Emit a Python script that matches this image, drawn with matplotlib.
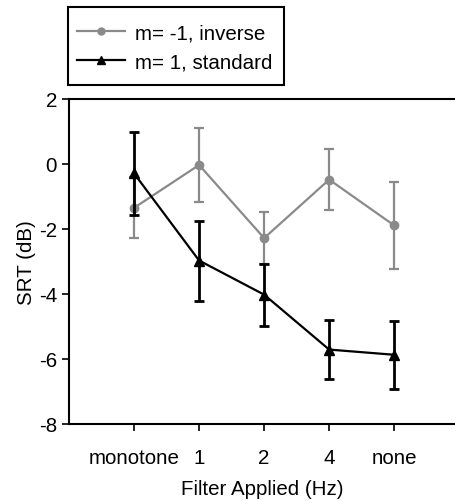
import matplotlib
matplotlib.use("Agg")
import matplotlib.pyplot as plt
from matplotlib.lines import Line2D
from matplotlib.patches import Rectangle

# ============= data
categories = ["monotone", "1", "2", "4", "none"]

inverse_srt = [-1.35, -0.03, -2.28, -0.48, -1.89]
inverse_err = [0.94, 1.15, 0.81, 0.94, 1.33]

standard_srt = [-0.29, -2.97, -4.02, -5.71, -5.87]
standard_err = [1.27, 1.23, 0.95, 0.91, 1.05]

y_ticks = [2, 0, -2, -4, -6, -8]

# ============= size
my_dpi = 100
W, H = 456, 502
plt.rcParams['font.family'] = ['Liberation Sans', 'DejaVu Sans']
FONT_SIZE = 14.8

fig = plt.figure(figsize=(W / my_dpi, H / my_dpi), dpi=my_dpi)
ax = fig.add_axes([69 / W, 1 - 425 / H, 1 - 69 / W, (425 - 100) / H])

x_pos = list(range(1, len(categories) + 1))

gray = "#8a8a8a"
ax.errorbar(x_pos, inverse_srt, yerr=inverse_err, color=gray, marker="o", markersize=6,
            linewidth=1.6, elinewidth=1.6, capsize=3.6, capthick=1.6, zorder=2)
ax.errorbar(x_pos, standard_srt, yerr=standard_err, color="black", marker="^", markersize=7,
            linewidth=1.6, elinewidth=2.0, capsize=3.6, capthick=2.0, zorder=3)

ax.set_xlim(0, 5.95)
ax.set_ylim(-8, 2)
ax.set_xticks(x_pos)
ax.set_xticklabels(categories)
ax.set_yticks(y_ticks)
ax.set_yticklabels([str(v) for v in y_ticks])
ax.tick_params(axis="both", labelsize=FONT_SIZE, direction="out", length=5, width=1.2, colors="black")
ax.tick_params(axis="x", pad=12)

ax.spines["right"].set_visible(False)
for s in ["left", "bottom", "top"]:
    ax.spines[s].set_linewidth(1.5)

ax.set_xlabel("Filter Applied (Hz)", fontsize=FONT_SIZE, labelpad=9)
ax.set_ylabel("SRT (dB)", fontsize=FONT_SIZE, labelpad=2)

# legend handles without error bars, frame drawn separately
handles = [
    Line2D([], [], color=gray, marker="o", markersize=5, linewidth=1.6),
    Line2D([], [], color="black", marker="^", markersize=5.5, linewidth=1.6),
]
labels = ["m= -1, inverse", "m= 1, standard"]
leg = fig.legend(handles, labels, loc="upper left", bbox_to_anchor=(68 / W, 1 - 15 / H),
                 borderaxespad=0, fontsize=FONT_SIZE, frameon=False,
                 handlelength=2.3, handletextpad=0.5, labelspacing=0.5, borderpad=0.45)
fig.patches.append(Rectangle((68 / W, 1 - 86 / H), 216 / W, 78 / H, transform=fig.transFigure,
                             fill=False, edgecolor="black", linewidth=1.5))

plt.savefig("out.png", dpi=my_dpi)
